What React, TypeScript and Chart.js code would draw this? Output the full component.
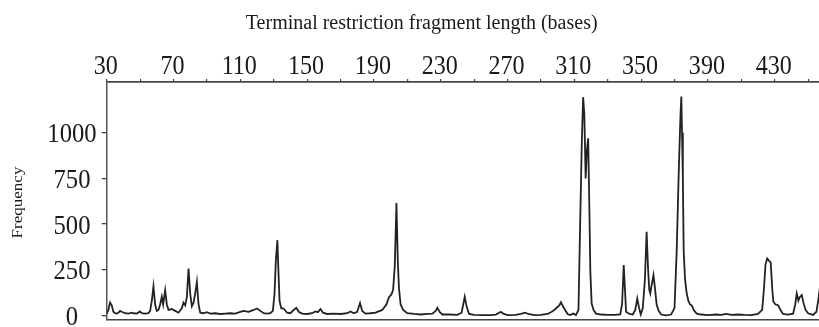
import React, { useEffect, useRef } from "react";
import { Chart, registerables } from "chart.js";

Chart.register(...registerables);

// Fragment length (bases)
const lengths = [
  30, 31, 32, 33, 34, 35, 36, 37, 38, 39, 41, 43, 45, 46, 48, 50, 51, 53, 55, 56,
  57, 58, 59, 60, 61, 62, 63, 63.8, 65, 66, 67, 69, 71, 73, 75, 76, 77, 78, 79, 80,
  81, 82, 83, 84, 85, 86, 88, 90, 92, 95, 98, 101, 104, 107, 110, 112, 115, 118, 120, 122,
  124, 126, 128, 129.5, 130.5, 131.3, 132.2, 132.8, 133.5, 134.5, 136, 138, 140, 142, 143.5, 145, 147, 150, 153, 155,
  156.5, 158, 159.5, 162, 166, 170, 174, 176, 178, 180, 181.7, 183, 185, 188, 191, 195, 197.5, 199, 200.5, 201.5,
  202.5, 203.5, 204.3, 205, 206, 207.5, 210, 214, 218, 222, 225, 227, 228, 229.5, 231, 235, 240, 242.5, 243.5, 244.4,
  245.5, 247, 250, 255, 260, 263, 265, 266, 267.5, 270, 275, 278, 280.5, 282.5, 286, 290, 294, 296.5, 298, 299.8,
  301, 302, 303.2, 304.5, 306, 307.5, 309.4, 311, 312.5, 313.5, 314.5, 315.3, 316, 316.8, 317.5, 318.3, 319, 319.6, 320.4, 321.5,
  323, 326, 330, 334, 337.5, 338.6, 339.6, 340.3, 341, 343, 345, 346.5, 347.7, 348.8, 349.8, 351, 352.3, 353.3, 354.2, 354.9,
  355.5, 356.2, 357.4, 358.3, 359.3, 360.5, 362, 365, 368, 370, 371.3, 372.3, 372.9, 373.6, 374.1, 374.5, 375, 375.5, 376.3, 377.3,
  378.3, 379.3, 380.3, 381.5, 383.3, 386, 390, 395, 398, 401, 404, 408, 412, 416, 420, 422.5, 423.6, 424.5, 425.5, 426.5,
  427.6, 428.5, 429.2, 430.5, 432, 433.5, 435, 438, 441, 442.3, 443.2, 444.2, 445, 446.2, 447.2, 448.5, 450, 453, 455, 456.2,
  457, 458, 460,
];

// Frequency
const frequency = [
  10, 30, 70, 55, 20, 12, 10, 15, 25, 20, 12, 10, 15, 12, 10, 22, 12, 10, 12, 25,
  80, 160, 60, 25, 30, 60, 102, 60, 138, 60, 30, 35, 25, 15, 40, 70, 55, 100, 257, 120,
  50, 70, 120, 184, 60, 15, 12, 18, 10, 12, 8, 10, 12, 10, 20, 25, 20, 30, 38, 25,
  12, 10, 12, 25, 120, 300, 412, 250, 80, 40, 38, 15, 12, 30, 42, 20, 10, 8, 12, 22,
  18, 35, 15, 8, 10, 8, 12, 22, 12, 20, 68, 25, 10, 12, 15, 30, 60, 100, 115, 140,
  270, 615, 300, 150, 60, 30, 12, 8, 5, 8, 10, 25, 42, 18, 5, 5, 3, 15, 60, 102,
  50, 8, 3, 2, 2, 5, 15, 20, 10, 2, 3, 8, 15, 8, 2, 3, 8, 20, 30, 45,
  55, 72, 50, 30, 8, 2, 10, 2, 30, 500, 950, 1195, 1100, 750, 900, 970, 600, 240, 65, 30,
  10, 5, 3, 3, 5, 60, 276, 150, 20, 8, 5, 30, 93, 40, 5, 40, 200, 458, 250, 140,
  120, 160, 221, 150, 60, 25, 5, 0, 5, 40, 348, 700, 897, 1100, 1198, 1000, 750, 350, 200, 120,
  80, 60, 55, 30, 10, 5, 2, 5, 3, 8, 3, 5, 3, 2, 8, 30, 150, 280, 312, 300,
  290, 150, 75, 60, 56, 30, 8, 5, 10, 60, 120, 82, 100, 111, 70, 30, 12, 3, 20, 90,
  150, 200, 250,
];

const xMinorTicks = [30, 50, 70, 90, 110, 130, 150, 170, 190, 210, 230, 250, 270, 290, 310, 330, 350, 370, 390, 410, 430, 450];
const xTickLabels = [30, 70, 110, 150, 190, 230, 270, 310, 350, 390, 430];
const yTickValues = [0, 250, 500, 750, 1000];
const xTitle = "Terminal restriction fragment length (bases)";
const yTitle = "Frequency";

const FONT = "'Liberation Serif', 'Times New Roman', serif";

export default function App() {
  const ref = useRef<HTMLCanvasElement>(null);

  useEffect(() => {
    const canvas = ref.current;
    if (!canvas) return;

    const textPlugin = {
      id: "condensedText",
      afterDraw(chart: any) {
        const ctx = chart.ctx as CanvasRenderingContext2D;
        const xs = chart.scales.x;
        const ys = chart.scales.y;
        const area = chart.chartArea;
        ctx.save();
        ctx.fillStyle = "#1a1a1a";
        ctx.font = `28px ${FONT}`;
        ctx.textAlign = "center";
        ctx.textBaseline = "alphabetic";
        for (const v of xTickLabels) {
          const px = xs.getPixelForValue(v);
          ctx.save();
          ctx.translate(px - 1, area.top - 8.5);
          ctx.scale(0.86, 1);
          ctx.fillText(String(v), 0, 0);
          ctx.restore();
        }
        for (const v of yTickValues) {
          const py = ys.getPixelForValue(v);
          ctx.save();
          ctx.translate(area.left - 34.7, py + 9.5);
          ctx.scale(0.88, 1);
          ctx.fillText(String(v), 0, 0);
          ctx.restore();
        }
        // axis titles
        ctx.font = `20px ${FONT}`;
        ctx.save();
        ctx.translate(area.left + 315, 28.5);
        ctx.scale(1.0, 1);
        ctx.fillText(xTitle, 0, 0);
        ctx.restore();
        ctx.font = `17px ${FONT}`;
        ctx.save();
        ctx.translate(22.3, 202.5);
        ctx.rotate(-Math.PI / 2);
        ctx.scale(1, 0.8);
        ctx.fillText(yTitle, 0, 0);
        ctx.restore();
        ctx.restore();
      },
    };

    const chart = new Chart(canvas, {
      type: "line",
      data: {
        datasets: [
          {
            data: lengths.map((x, i) => ({ x, y: frequency[i] })),
            borderColor: "#222222",
            borderWidth: 1.8,
            pointRadius: 0,
            tension: 0,
            fill: false,
            xAxisID: "x",
            yAxisID: "y",
          },
        ],
      },
      options: {
        animation: false,
        responsive: false,
        devicePixelRatio: 1,
        layout: { padding: { top: 0, left: 0, right: 25.2, bottom: 0 } },
        plugins: {
          legend: { display: false },
          tooltip: { enabled: false },
          title: { display: false },
        },
        scales: {
          x: {
            type: "linear",
            position: "top",
            min: 30,
            max: 460,
            afterBuildTicks: (s: any) => {
              s.ticks = xMinorTicks.map((v) => ({ value: v }));
            },
            afterFit: (s: any) => {
              s.height = 82;
            },
            ticks: { display: false },
            grid: { drawOnChartArea: false, drawTicks: true, tickLength: 3, color: "#444", lineWidth: 1.2 },
            border: { display: true, color: "#444", width: 1.8 },
          },
          x2: {
            type: "linear",
            position: "bottom",
            min: 30,
            max: 460,
            afterFit: (s: any) => {
              s.height = 7;
            },
            ticks: { display: false },
            grid: { display: false },
            border: { display: true, color: "#444", width: 1.5 },
          },
          y: {
            type: "linear",
            position: "left",
            min: -25,
            max: 1278,
            afterBuildTicks: (s: any) => {
              s.ticks = yTickValues.map((v) => ({ value: v }));
            },
            afterFit: (s: any) => {
              s.width = 106.7;
            },
            ticks: { display: false },
            grid: { drawOnChartArea: false, drawTicks: true, tickLength: 5, color: "#444", lineWidth: 1.3 },
            border: { display: true, color: "#555", width: 1.5 },
          },
        },
      } as any,
      plugins: [textPlugin],
    });

    return () => chart.destroy();
  }, []);

  return (
    <div
      style={{
        position: "fixed",
        left: 0,
        top: 0,
        width: 819,
        height: 327,
        overflow: "hidden",
        background: "#fff",
      }}
    >
      <canvas ref={ref} width={850} height={327} style={{ display: "block", width: 850, height: 327 }} />
    </div>
  );
}
